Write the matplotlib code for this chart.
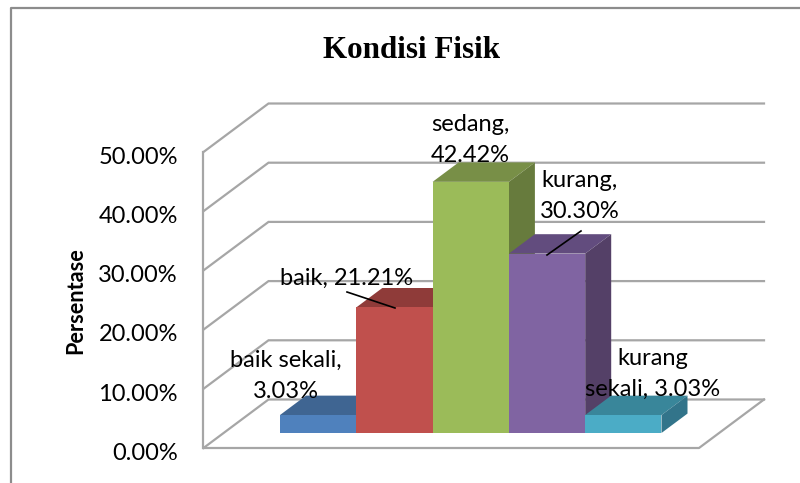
import matplotlib
matplotlib.use("Agg")
import matplotlib.pyplot as plt
import numpy as np

categories = ["baik sekali", "baik", "sedang", "kurang", "kurang sekali"]
values = [3.03, 21.21, 42.42, 30.30, 3.03]
ticks = [0, 10, 20, 30, 40, 50]
front_colors = ["#4F81BD", "#C0504D", "#9BBB59", "#8064A2", "#4BACC6"]
top_colors = ["#3F6592", "#8F3B39", "#788F47", "#624C7E", "#39869A"]
side_colors = ["#375A84", "#7F3432", "#677B3D", "#544067", "#32748A"]
labels = ["baik sekali,\n3.03%", "baik, 21.21%", "sedang,\n42.42%", "kurang,\n30.30%", "kurang\nsekali, 3.03%"]

W, H = 800, 483
PX_X, PX_Y = 76.3, 5.92          # pixels per category / per percent
DEPTH_X, DEPTH_Y = 65 / PX_X, 48.5 / PX_Y   # oblique shift of the whole floor depth
D0, D1 = 0.31, 0.71              # bar front / back depth
BASE_X = -0.5 + D0 * DEPTH_X     # data x at pixel 280
XL = BASE_X - 280 / PX_X
YL = -(H - 448) / PX_Y

fig = plt.figure(figsize=(W / 100, H / 100), dpi=100)
ax = fig.add_axes([0, 0, 1, 1])
ax.set_xlim(XL, XL + W / PX_X)
ax.set_ylim(YL, YL + H / PX_Y)
ax.axis("off")

def ob(x, y, d):
    return x + d * DEPTH_X, y + d * DEPTH_Y

def px2d(px, py):
    return XL + px / PX_X, YL + (H - py) / PX_Y

grid = "#A6A6A6"
lw = 1.6
wall_x = XL + 203.5 / PX_X
floor_end = XL + 699 / PX_X

# walls and gridlines
for t in ticks:
    p0 = ob(wall_x, t, 0)
    p1 = ob(wall_x, t, 1)
    p2 = ob(floor_end, t, 1)
    ax.plot([p0[0], p1[0], p2[0]], [p0[1], p1[1], p2[1]], color=grid, lw=lw, zorder=1, solid_joinstyle="miter")
ax.plot([wall_x, wall_x], [0, 50], color=grid, lw=lw, zorder=1)
pa, pb = ob(floor_end, 0, 0), ob(floor_end, 0, 1)
ax.plot([wall_x, pa[0], pb[0]], [0, pa[1], pb[1]], color=grid, lw=lw, zorder=1)

# 3-D bars in an oblique projection, painted left to right
shift = D0 * DEPTH_X
for i, v in enumerate(values):
    z = 2 + i
    ax.bar(i + shift, v, width=1, bottom=D0 * DEPTH_Y, align="center", color=front_colors[i], zorder=z + 0.5, linewidth=0)
    xl, xr = i - 0.5, i + 0.5
    ax.fill(*zip(ob(xl, v, D0), ob(xr, v, D0), ob(xr, v, D1), ob(xl, v, D1)),
            color=top_colors[i], zorder=z, lw=0)
    ax.fill(*zip(ob(xr, 0, D0), ob(xr, v, D0), ob(xr, v, D1), ob(xr, 0, D1)),
            color=side_colors[i], zorder=z, lw=0)

font = "Lato"
fs = 17
for t in ticks:
    ax.text(XL + 178 / PX_X, t - 0.9, f"{t:.2f}%", ha="right", va="center", family=font, fontsize=fs, color="black", zorder=20)

ax.text(XL + 75.5 / PX_X, YL + (H - 301) / PX_Y, "Persentase", rotation=90, ha="center", va="center",
        family=font, fontsize=15.6, fontweight="bold", zorder=20)
ax.text(XL + 412 / PX_X, YL + (H - 50) / PX_Y, "Kondisi Fisik", ha="center", va="center",
        family="Liberation Serif", fontsize=22.4, fontweight="bold", zorder=20)

# data labels (pixel anchors converted through the axes scale)
label_px = [(286, 376), (347, 278), (470, 140), (580, 196), (653, 374)]
for s, (px, py) in zip(labels, label_px):
    ax.text(XL + px / PX_X, YL + (H - py) / PX_Y, s, ha="center", va="center", family=font, fontsize=fs,
            linespacing=1.62, zorder=21, color="black")

# leader lines
for a, b in [((347, 292), (395, 308)), ((581, 231), (547, 255))]:
    (x0, y0), (x1, y1) = px2d(*a), px2d(*b)
    ax.plot([x0, x1], [y0, y1], color="black", lw=1.2, zorder=22)

# chart frame: left and top edges only, running off the image
(fx0, fy0), (fx1, fy1) = px2d(11, 483), px2d(800, 8)
ax.plot([fx0, fx0, fx1], [fy0, fy1, fy1], color="#8C8C8C", lw=1.6, zorder=0, clip_on=False)

fig.savefig("out.png", dpi=100)
